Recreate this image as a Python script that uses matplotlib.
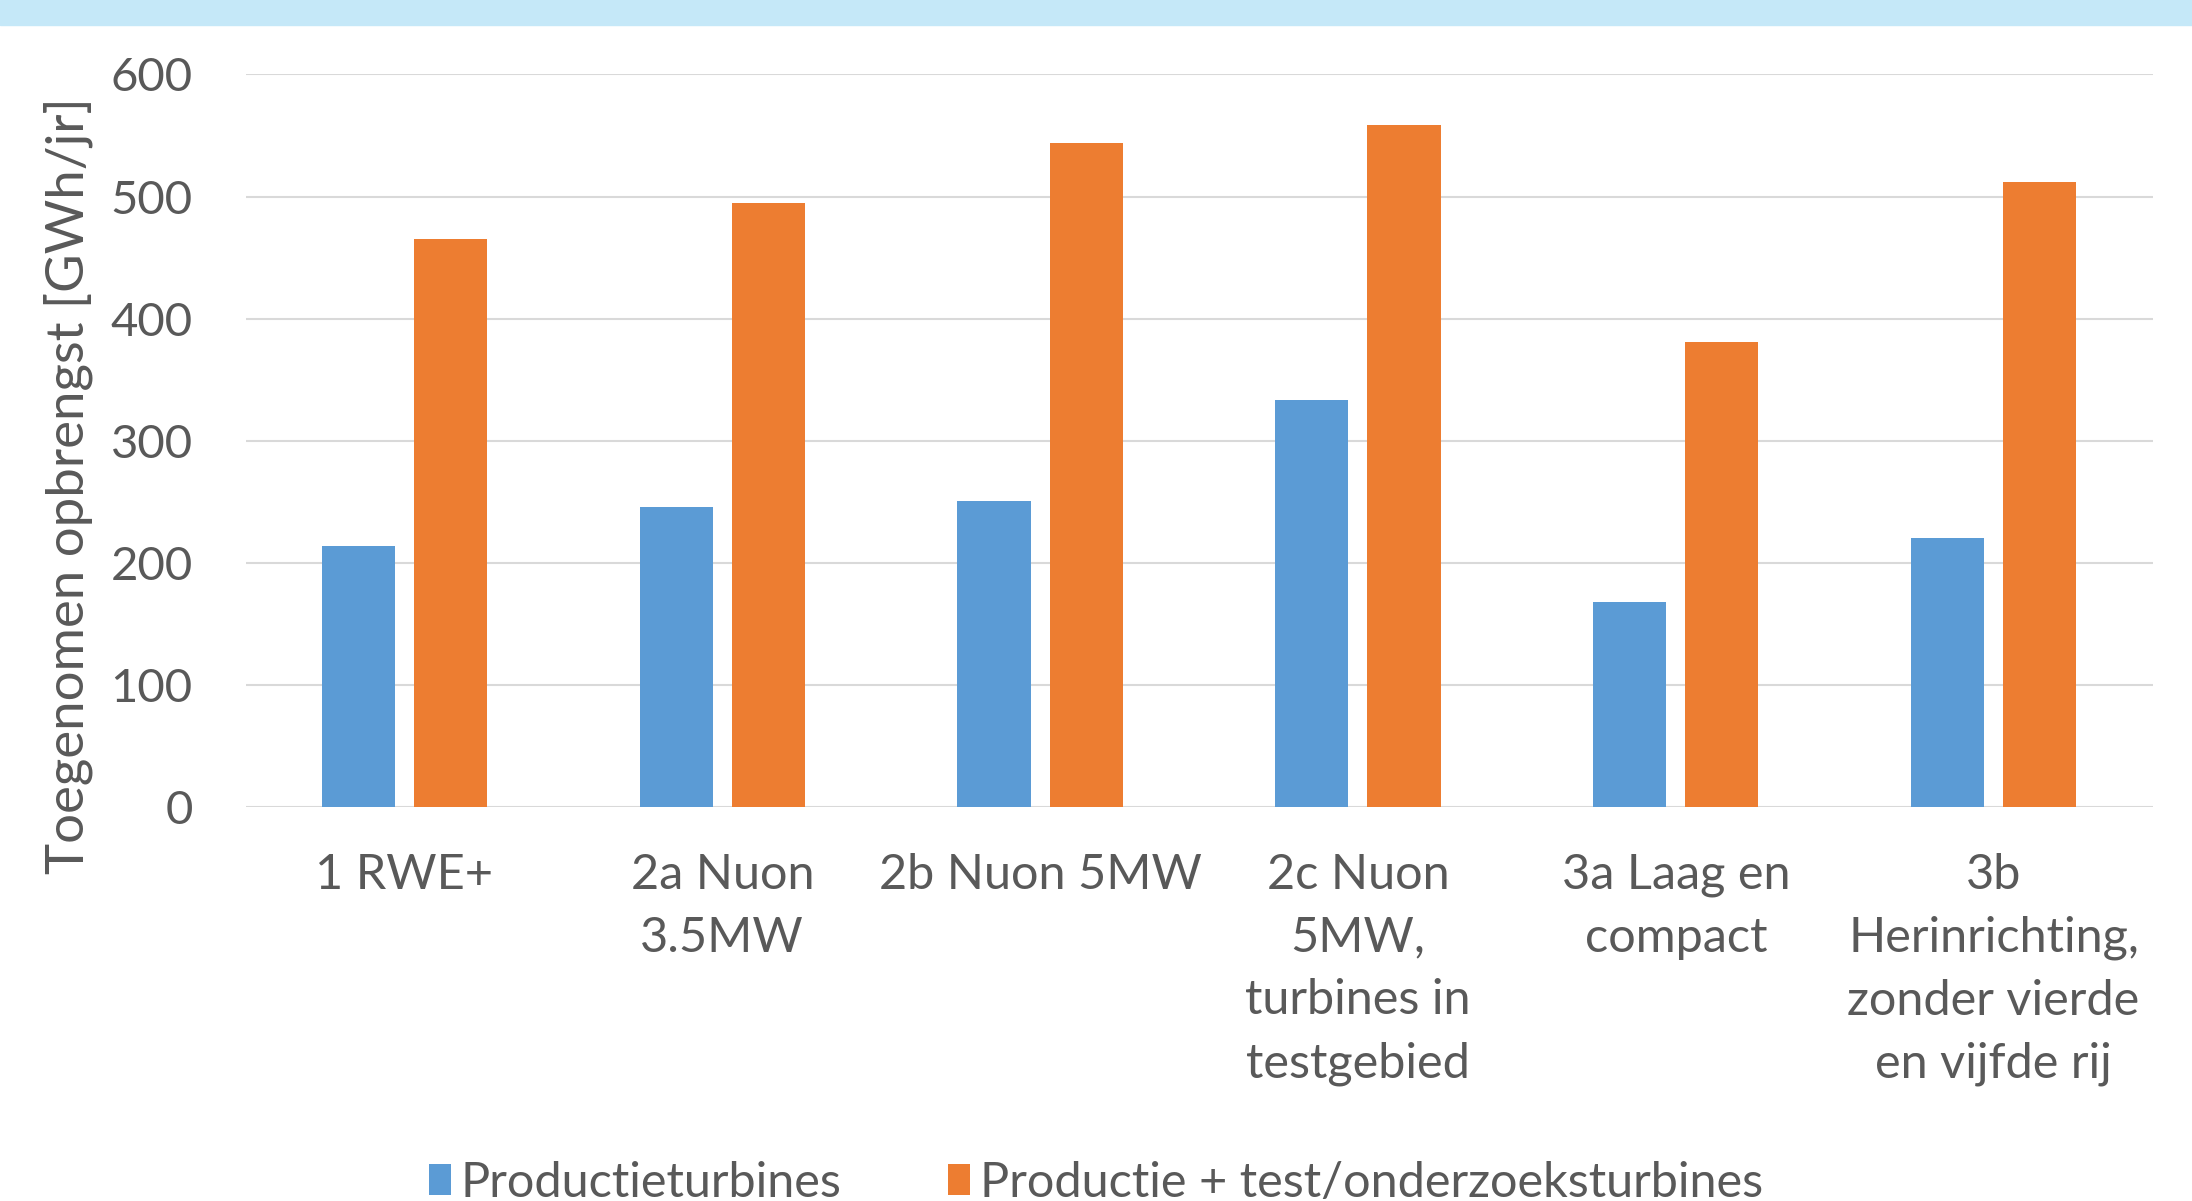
import matplotlib.pyplot as plt
from matplotlib.patches import Rectangle

plt.rcParams['font.family'] = ['Lato', 'DejaVu Sans']

# Varianten en jaarlijkse opbrengst (GWh/jr)
varianten = ['1 RWE+', '2a Nuon\n3.5MW', '2b Nuon 5MW',
             '2c Nuon\n5MW,\nturbines in\ntestgebied',
             '3a Laag en\ncompact',
             '3b\nHerinrichting,\nzonder vierde\nen vijfde rij']
productie = [214, 246, 251, 333, 168, 220]
productie_test = [465, 495, 544, 559, 381, 512]
yticks = [0, 100, 200, 300, 400, 500, 600]

blauw = '#5b9bd5'
oranje = '#ed7d31'
grijs = '#595959'

fig = plt.figure(figsize=(21.92, 12.01), dpi=100)
# lichtblauwe balk bovenaan
fig.patches.append(Rectangle((0, 1 - 25 / 1201), 1, 25 / 1201, transform=fig.transFigure,
                             color='#c5e8f8', zorder=0))

ax = fig.add_axes([0.112, 0.328, 0.870, 0.610])
x = range(len(varianten))
breedte = 0.23
ax.bar([i - 0.145 for i in x], productie, breedte, color=blauw, label='Productieturbines', zorder=3)
ax.bar([i + 0.145 for i in x], productie_test, breedte, color=oranje,
       label='Productie + test/onderzoeksturbines', zorder=3)

ax.set_xlim(-0.5, len(varianten) - 0.5)
ax.set_ylim(0, 600)
ax.set_yticks(yticks)
ax.set_xticks(list(x))
ax.set_xticklabels(varianten, fontsize=35, color=grijs, linespacing=1.52)
ax.tick_params(axis='y', length=0, pad=38, labelsize=34, labelcolor=grijs)
ax.tick_params(axis='x', length=0, pad=33)
ax.grid(axis='y', color='#d9d9d9', linewidth=1.5, zorder=0)
for s in ax.spines.values():
    s.set_visible(False)

fig.text(0.031, 0.596, 'Toegenomen opbrengst [GWh/jr]', rotation=90, fontsize=38,
         color=grijs, ha='center', va='center')

fig.legend(loc='center', bbox_to_anchor=(0.5, 0.015), ncol=2, frameon=False,
           fontsize=35, labelcolor=grijs, handlelength=0.45, handleheight=0.6,
           handletextpad=0.2, columnspacing=2.2)

fig.savefig('out.png', dpi=100)
